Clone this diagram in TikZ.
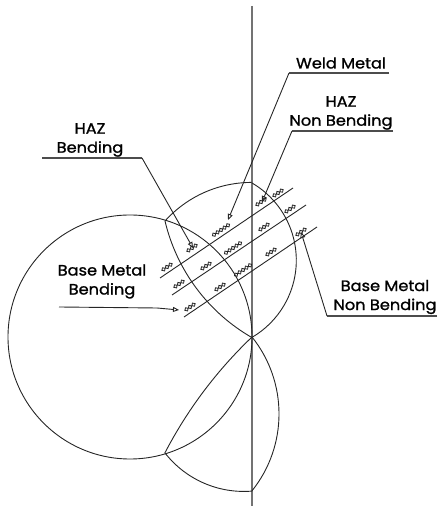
\documentclass[tikz,border=0pt]{standalone}
\usepackage{fontspec}
\setmainfont[FakeStretch=1.08,FakeBold=1.2]{Poppins}
\usetikzlibrary{arrows.meta}
\tikzset{
  outline/.style={line width=0.9bp,black!85},
  weldline/.style={line width=0.9bp,black!85},
  axisline/.style={line width=1.3bp,black!55},
  leader/.style={line width=0.9bp,black!85},
  shelf/.style={line width=1.3bp,black!70},
  tip/.style={-{Triangle[open,length=6bp,width=5bp]}},
  label/.style={inner sep=0pt,align=center,font=\fontsize{15bp}{19bp}\selectfont},
  bead/.style={line width=0.85bp,black!85}
}
\newcommand{\beads}[3]{%
  \begin{scope}[shift={(#1,#2)},rotate=34]
    \foreach \k in {1,...,#3}{
      \draw[bead] ({(\k-(#3+1)/2)*4.2},0) circle[radius=1.9bp];
    }
  \end{scope}}
\begin{document}
\begin{tikzpicture}[x=1bp,y=1bp]
\useasboundingbox (0,0) rectangle (438,506);
% axis
\coordinate (axT) at (252,500);
\coordinate (axB) at (252,0);
\draw[axisline] (axT) -- (axB);
% key points
\coordinate (A) at (252,169);
\coordinate (T) at (252,323);
\coordinate (JL) at (165,285);
\coordinate (JB) at (165,53);
\coordinate (Bot) at (252,15);
% base circle
\draw[outline] (130,169) circle[radius=122bp];
% weld lens
\draw[outline] (JL) arc[start angle=138,end angle=90,radius=116.6bp];
\draw[outline] (T) arc[start angle=59.7,end angle=-59.7,radius=89.4bp];
\draw[outline] (JL) arc[start angle=193.3,end angle=240.3,radius=183bp];
% lower lobe
\draw[outline] (A) arc[start angle=133.6,end angle=152.6,radius=440.6bp];
\draw[outline] (A) arc[start angle=38.7,end angle=-38.7,radius=123bp];
\draw[outline] (JB) arc[start angle=218,end angle=274.8,radius=100bp];
% weld lines
\coordinate (w1a) at (160,228); \coordinate (w1b) at (293,318);
\coordinate (w2a) at (172,211); \coordinate (w2b) at (306,301);
\coordinate (w3a) at (184,189); \coordinate (w3b) at (317,279);
\draw[weldline] (w1a) -- (w1b);
\draw[weldline] (w2a) -- (w2b);
\draw[weldline] (w3a) -- (w3b);
% beads, top line
\beads{167}{239}{3}
\beads{192}{258}{3}
\beads{221}{276}{5}
\beads{261}{304}{3}
\beads{278}{313}{3}
% beads, middle line
\beads{179}{222}{3}
\beads{206}{240}{3}
\beads{233}{258}{5}
\beads{264}{279}{3}
\beads{290}{297}{3}
% beads, bottom line
\beads{190}{199}{3}
\beads{220}{219}{3}
\beads{243}{236}{5}
\beads{271}{254}{3}
\beads{301}{274}{3}
% labels
\node[label] (weld) at (341,443) {Weld Metal};
\node[label] (hazn) at (341,393) {HAZ\\Non Bending};
\node[label] (hazb) at (90,366) {HAZ\\Bending};
\node[label] (basb) at (102,224.5) {Base Metal\\Bending};
\node[label] (basn) at (385,209) {Base Metal\\Non Bending};
% leaders
\coordinate (l1a) at (389,433); \coordinate (l1b) at (289,433); \coordinate (l1c) at (228,286);
\coordinate (l2a) at (393,375); \coordinate (l2b) at (292,375); \coordinate (l2c) at (262,304);
\coordinate (l3a) at (42,348); \coordinate (l3b) at (142,348); \coordinate (l3c) at (193,258);
\coordinate (l4a) at (59,199); \coordinate (l4b) at (157,198); \coordinate (l4c) at (179,196);
\coordinate (l5a) at (437,190); \coordinate (l5b) at (327,190); \coordinate (l5c) at (301,274);
\draw[shelf] (l1a) -- (l1b);
\draw[leader,tip] (l1b) -- (l1c);
\draw[shelf] (l2a) -- (l2b);
\draw[leader,tip] (l2b) -- (l2c);
\draw[shelf] (l3a) -- (l3b);
\draw[leader,tip] (l3b) -- (l3c);
\draw[leader] (l4a) -- (l4b);
\draw[leader,tip] (l4b) -- (l4c);
\draw[shelf] (l5a) -- (l5b);
\draw[leader,tip] (l5b) -- (l5c);
\end{tikzpicture}
\end{document}
